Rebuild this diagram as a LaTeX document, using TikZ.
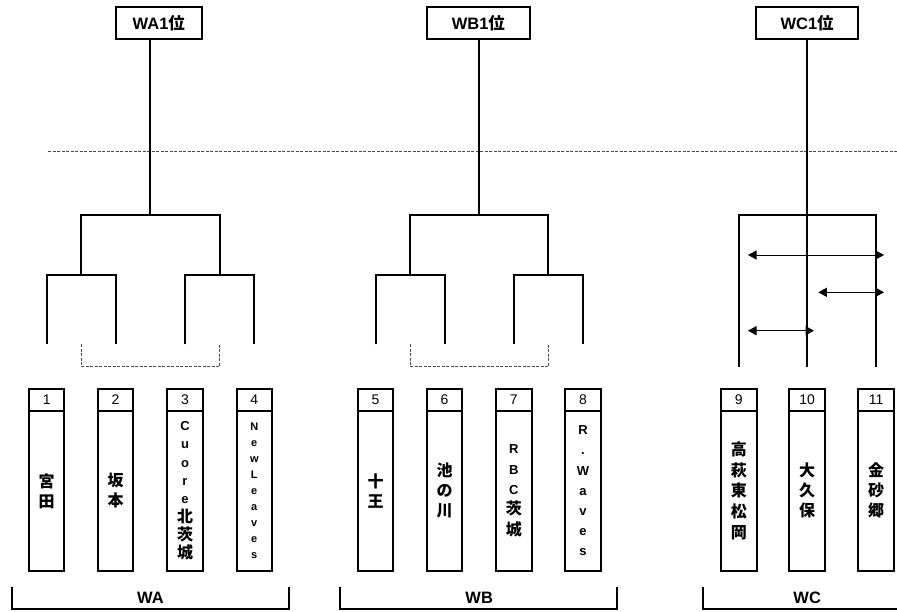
\documentclass[tikz,border=0pt]{standalone}
\usepackage{fontspec}
\setmainfont{Liberation Sans}
\newfontfamily\jp{Noto Sans CJK JP}
\usetikzlibrary{arrows.meta}
\begin{document}
\begin{tikzpicture}[x=1pt,y=-1pt,
  tl/.style={line width=2pt},
  headbox/.style={draw,line width=2pt,outer sep=0pt,minimum height=32.3pt,inner sep=0pt,font=\fontsize{16.5}{16.5}\selectfont\bfseries},
  numbox/.style={draw,line width=2pt,outer sep=0pt,minimum width=35.5pt,minimum height=21.7pt,inner sep=0pt,anchor=north,font=\fontsize{14}{14}\selectfont},
  namebox/.style={draw,line width=2pt,outer sep=0pt,minimum width=35.5pt,minimum height=160.3pt,inner sep=0pt,anchor=north,align=center},
  kj/.style={font=\fontsize{16}{#1}\selectfont\bfseries\jp},
  lt/.style={font=\fontsize{13}{#1}\selectfont\bfseries},
  dsh/.style={draw=gray!60!black,line width=1pt,dash pattern=on 3pt off 1.5pt},
  arr/.style={line width=1pt,{Triangle[length=8.5pt,width=9pt]}-{Triangle[length=8.5pt,width=9pt]}},
  grplabel/.style={font=\fontsize{16.5}{16.5}\selectfont\bfseries,inner sep=0pt}
]
\useasboundingbox (0,0) rectangle (897,611);

% head boxes
\node[headbox,minimum width=85.7pt] (WA1) at (158.85,22.85) {WA1{\jp 位}};
\node[headbox,minimum width=103.3pt] (WB1) at (478.35,22.85) {WB1{\jp 位}};
\node[headbox,minimum width=102.3pt] (WC1) at (807.15,22.85) {WC1{\jp 位}};

% dashed separator
\coordinate (sepL) at (48,151.7);
\coordinate (sepR) at (897,151.7);
\draw[dsh] (sepL) -- (sepR);

% number cells
\foreach \i/\x in {1/46.7,2/115.5,3/185,4/254.3,5/375.5,6/444.5,7/513.8,8/583,9/738.8,10/807.2,11/876.2}
  \node[numbox] (n\i) at (\x,389) {\i};

% name cells
\node[namebox,kj=20] (t1) at (n1.south) {宮\\田};
\node[namebox,kj=20] (t2) at (n2.south) {坂\\本};
\node[namebox,lt=18.3] (t3) at (n3.south) {C\\u\\o\\r\\e\\{\jp\fontsize{16}{18.3}\selectfont 北}\\{\jp\fontsize{16}{18.3}\selectfont 茨}\\{\jp\fontsize{16}{18.3}\selectfont 城}};
\node[namebox,font=\fontsize{11}{16}\selectfont\bfseries] (t4) at (n4.south) {N\\e\\w\\L\\e\\a\\v\\e\\s};
\node[namebox,kj=20] (t5) at (n5.south) {十\\王};
\node[namebox,kj=20] (t6) at (n6.south) {池\\の\\川};
\node[namebox,lt=20.4] (t7) at (n7.south) {R\\B\\C\\{\jp\fontsize{16}{20.4}\selectfont 茨}\\{\jp\fontsize{16}{20.4}\selectfont 城}};
\node[namebox,lt=20.2] (t8) at (n8.south) {R\\.\\W\\a\\v\\e\\s};
\node[namebox,kj=20.8] (t9) at (n9.south) {高\\萩\\東\\松\\岡};
\node[namebox,kj=20] (t10) at (n10.south) {大\\久\\保};
\node[namebox,kj=20] (t11) at (n11.south) {金\\砂\\郷};

% WA tree
\coordinate (ma1) at (81.1,275);
\coordinate (ma2) at (219.65,275);
\coordinate (ra) at (150.4,215);
\draw[tl] (n1 |- 0,344.3) -- (n1 |- ma1) -- (n2 |- ma1) -- (n2 |- 0,344.3);
\draw[tl] (n3 |- 0,344.3) -- (n3 |- ma2) -- (n4 |- ma2) -- (n4 |- 0,344.3);
\draw[tl] (ma1) -- (ma1 |- ra) -- (ma2 |- ra) -- (ma2);
\draw[tl] (ra |- WA1.south) -- (ra);
\draw[dsh] (ma1 |- 0,344.3) -- (ma1 |- 0,366.7) -- (ma2 |- 0,366.7) -- (ma2 |- 0,344.3);

% WB tree
\coordinate (mb1) at (410,275);
\coordinate (mb2) at (548.4,275);
\coordinate (rb) at (479.2,215);
\draw[tl] (n5 |- 0,344.3) -- (n5 |- mb1) -- (n6 |- mb1) -- (n6 |- 0,344.3);
\draw[tl] (n7 |- 0,344.3) -- (n7 |- mb2) -- (n8 |- mb2) -- (n8 |- 0,344.3);
\draw[tl] (mb1) -- (mb1 |- rb) -- (mb2 |- rb) -- (mb2);
\draw[tl] (rb |- WB1.south) -- (rb);
\draw[dsh] (mb1 |- 0,344.3) -- (mb1 |- 0,366.7) -- (mb2 |- 0,366.7) -- (mb2 |- 0,344.3);

% WC league
\coordinate (rc) at (807.2,215);
\draw[tl] (n9 |- 0,366.7) -- (n9 |- rc) -- (n11 |- rc) -- (n11 |- 0,366.7);
\draw[tl] (rc |- WC1.south) -- (rc |- 0,366.7);
\coordinate (c1l) at (748,255);   \coordinate (c1r) at (884,255);
\coordinate (c2l) at (818.3,292.3); \coordinate (c2r) at (884,292.3);
\coordinate (c3l) at (748,330.7); \coordinate (c3r) at (814,330.7);
\draw[arr] (c1l) -- (c1r);
\draw[arr] (c2l) -- (c2r);
\draw[arr] (c3l) -- (c3r);

% group brackets
\coordinate (ga1) at (12.3,586.7); \coordinate (ga2) at (288.7,586.7);
\draw[tl] (ga1) -- (ga1 |- 0,609.3) -- (ga2 |- 0,609.3) -- (ga2);
\node[grplabel] (gWA) at (150.4,598) {WA};
\coordinate (gb1) at (340,586.7); \coordinate (gb2) at (617.3,586.7);
\draw[tl] (gb1) -- (gb1 |- 0,609.3) -- (gb2 |- 0,609.3) -- (gb2);
\node[grplabel] (gWB) at (479.2,598) {WB};
\coordinate (gc1) at (702.7,586.7); \coordinate (gc2) at (897,609.3);
\draw[tl] (gc1) -- (gc1 |- gc2) -- (gc2);
\node[grplabel] (gWC) at (807.2,598) {WC};
\end{tikzpicture}
\end{document}
